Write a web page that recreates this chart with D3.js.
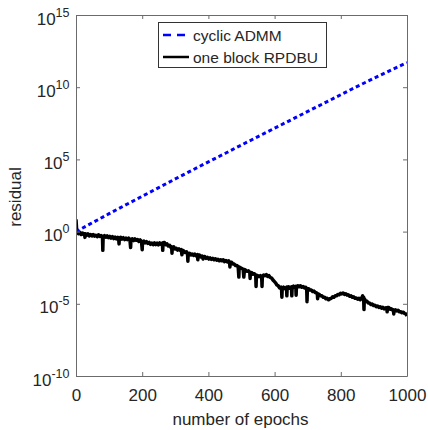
<!DOCTYPE html>
<html><head><meta charset="utf-8">
<script src="https://cdn.jsdelivr.net/npm/d3@7"></script>
<style>
html,body{margin:0;padding:0;background:#fff;}
svg{display:block;font-family:"Liberation Sans",Arial,sans-serif;}
</style></head>
<body>
<script>
// ---- data ----
const xTicks = [0, 200, 400, 600, 800, 1000];
const yTickExps = [15, 10, 5, 0, -5, -10];
const seriesNames = ["cyclic ADMM", "one block RPDBU"];
// cyclic ADMM: epoch, log10(residual)
const admmEpochs = [0,50,100,150,200,250,300,350,400,450,500,550,600,650,700,750,800,850,900,950,1000];
const admmLog = [0,0.62,1.24,1.85,2.45,3.05,3.65,4.24,4.83,5.41,6.0,6.58,7.16,7.74,8.32,8.9,9.48,10.06,10.62,11.17,11.7];
// one block RPDBU: [epoch, log10(residual)]
const rpdbu = [
[0,0.85],[2,0.1],[4,-0.05],[8,-0.15],[12,-0.05],[16,-0.2],[20,-0.1],[24,-0.2],[26,-0.15],[27,-0.4],[28,-0.15],[32,-0.25],[36,-0.15],[40,-0.3],[44,-0.2],[48,-0.3],[52,-0.2],[56,-0.32],[60,-0.25],[64,-0.35],[68,-0.22],[72,-0.33],[76,-0.28],[80,-0.35],[81,-1.3],[82,-0.35],[86,-0.28],[90,-0.38],[94,-0.3],[98,-0.42],
[102,-0.33],[106,-0.45],[110,-0.35],[114,-0.48],[118,-0.38],[122,-0.5],[126,-0.4],[129,-0.5],[130,-0.85],[131,-0.45],[135,-0.4],[139,-0.52],[143,-0.42],[147,-0.55],[151,-0.45],[155,-0.55],[159,-0.45],[163,-0.58],[165,-1.1],[166,-0.55],[170,-0.5],[174,-0.62],[178,-0.5],[182,-0.6],[186,-0.55],[190,-0.68],[194,-0.58],[198,-0.72],[200,-1.25],[201,-0.7],
[205,-0.65],[209,-0.78],[213,-0.7],[217,-0.82],[221,-0.75],[225,-0.88],[229,-0.8],[233,-0.9],[237,-0.78],[241,-0.9],[245,-0.8],[249,-0.92],[253,-0.78],[257,-0.88],[261,-0.8],[262,-1.3],[263,-0.78],[267,-0.75],[271,-0.9],[275,-0.85],[279,-1.0],[283,-0.95],[287,-1.1],[289,-1.05],[290,-1.5],[291,-1.1],[295,-1.05],[299,-1.2],
[303,-1.15],[307,-1.28],[311,-1.2],[315,-1.3],[318,-1.25],[320,-1.6],[322,-1.3],[326,-1.35],[330,-1.45],[334,-1.4],[337,-1.55],[338,-2.05],[339,-1.55],[343,-1.5],[347,-1.62],[351,-1.55],[355,-1.65],[359,-1.55],[363,-1.68],[367,-1.6],[368,-1.95],[369,-1.65],[373,-1.62],[377,-1.75],[381,-1.7],[384,-1.9],[385,-1.75],[389,-1.72],[393,-1.85],[397,-1.78],
[401,-1.9],[405,-1.82],[409,-1.92],[413,-1.85],[417,-1.95],[421,-1.88],[425,-1.98],[429,-1.92],[433,-2.02],[437,-1.95],[441,-2.02],[445,-1.95],[449,-2.08],[453,-2.0],[457,-2.1],[461,-2.02],[464,-2.12],[465,-2.45],[466,-2.15],[470,-2.12],[474,-2.25],[478,-2.25],[482,-2.35],[486,-2.35],[490,-2.45],[492,-3.15],[493,-2.45],[497,-2.5],
[501,-2.55],[505,-2.62],[507,-3.15],[509,-2.62],[513,-2.68],[517,-2.75],[521,-2.72],[525,-2.82],[526,-3.25],[527,-2.82],[531,-2.85],[535,-2.95],[539,-2.92],[543,-3.05],[544,-3.8],[545,-3.02],[549,-3.05],[553,-3.12],[557,-3.05],[561,-3.15],[562,-3.8],[563,-3.1],[567,-3.0],[571,-3.05],[575,-2.98],[579,-3.1],[583,-3.05],[587,-3.18],[591,-3.22],[595,-3.35],[599,-3.45],
[603,-3.55],[607,-3.7],[611,-3.75],[615,-3.9],[619,-3.85],[621,-3.95],[622,-4.55],[623,-3.95],[627,-3.85],[631,-3.95],[636,-3.85],[637,-4.45],[638,-3.88],[642,-3.82],[646,-3.92],[651,-3.82],[652,-4.45],[653,-3.85],[657,-3.78],[661,-3.88],[664,-3.8],[665,-4.4],[666,-3.8],[670,-3.75],[674,-3.82],[678,-3.75],[682,-3.85],[686,-3.8],[690,-3.9],[694,-3.85],[697,-3.95],[698,-4.85],[699,-3.95],
[703,-3.95],[707,-4.05],[711,-4.05],[715,-4.15],[719,-4.12],[723,-4.22],[727,-4.25],[729,-4.3],[730,-4.65],[731,-4.3],[735,-4.35],[739,-4.45],[743,-4.45],[747,-4.55],[751,-4.55],[755,-4.65],[759,-4.62],[763,-4.72],[767,-4.65],[771,-4.62],[775,-4.52],[779,-4.55],[783,-4.45],[787,-4.45],[791,-4.35],[795,-4.38],[799,-4.28],
[803,-4.32],[807,-4.25],[811,-4.35],[815,-4.3],[819,-4.4],[823,-4.38],[827,-4.48],[831,-4.45],[835,-4.55],[839,-4.52],[843,-4.62],[847,-4.6],[851,-4.68],[855,-4.62],[859,-4.72],[863,-4.6],[866,-4.45],[867,-4.6],[869,-4.55],[870,-5.4],[871,-4.65],[875,-4.8],[879,-4.82],[883,-4.95],[887,-4.95],[891,-5.05],[895,-5.02],[899,-5.12],
[903,-5.1],[907,-5.2],[911,-5.15],[915,-5.25],[919,-5.2],[923,-5.3],[927,-5.25],[931,-5.35],[935,-5.28],[939,-5.3],[940,-5.55],[941,-5.25],[945,-5.25],[949,-5.38],[953,-5.35],[957,-5.45],[959,-5.42],[960,-5.7],[961,-5.45],[965,-5.42],[969,-5.5],[973,-5.45],[977,-5.55],[981,-5.55],[985,-5.62],[989,-5.58],[993,-5.68],[997,-5.7],[1000,-5.85]
];

// ---- chart ----
const W = 428, H = 430;
const L = 76, R = 407, T = 15, B = 376;
const textCol = "#262626", axisCol = "#6b6b6b";
const FS = "17px";
const svg = d3.select("body").append("svg").attr("width", W).attr("height", H);

const x = d3.scaleLinear().domain([0, 1000]).range([L, R]);
const y = d3.scaleLog().domain([1e-10, 1e15]).range([B, T]);

svg.append("defs").append("clipPath").attr("id", "clip")
  .append("rect").attr("x", L).attr("y", T).attr("width", R - L).attr("height", B - T);

const line = d3.line().x(d => x(d[0])).y(d => y(Math.pow(10, d[1])));

const admm = admmEpochs.map((e, i) => [e, admmLog[i]]);
const g = svg.append("g").attr("clip-path", "url(#clip)");
g.append("path").datum(rpdbu).attr("d", line)
  .attr("fill", "none").attr("stroke", "#000").attr("stroke-width", 3.5).attr("stroke-linejoin", "round");
g.append("path").datum(admm).attr("d", line)
  .attr("fill", "none").attr("stroke", "#0000ff").attr("stroke-width", 3).attr("stroke-dasharray", "4,3");

// axes
function styleAxis(sel) {
  sel.selectAll(".domain").attr("stroke", axisCol);
  sel.selectAll(".tick line").attr("stroke", axisCol);
  sel.selectAll("text").attr("fill", textCol);
}
const yTickVals = yTickExps.map(e => Math.pow(10, e));
svg.append("g").attr("transform", `translate(0,${B})`)
  .call(d3.axisBottom(x).tickValues(xTicks).tickSizeInner(-4).tickSizeOuter(0).tickFormat(d3.format("d")))
  .call(styleAxis)
  .call(s => s.selectAll("text").attr("font-size", FS).attr("y", 24.5).attr("dy", 0));
svg.append("g").attr("transform", `translate(0,${T})`)
  .call(d3.axisTop(x).tickValues(xTicks).tickSizeInner(-4).tickSizeOuter(0).tickFormat(""))
  .call(styleAxis);
svg.append("g").attr("transform", `translate(${L},0)`)
  .call(d3.axisLeft(y).tickValues(yTickVals).tickSizeInner(-4).tickSizeOuter(0).tickFormat(""))
  .call(styleAxis);
svg.append("g").attr("transform", `translate(${R},0)`)
  .call(d3.axisRight(y).tickValues(yTickVals).tickSizeInner(-4).tickSizeOuter(0).tickFormat(""))
  .call(styleAxis);

// y tick labels with superscripts
const yl = svg.append("g").attr("fill", textCol);
yTickExps.forEach(e => {
  const t = yl.append("text").attr("x", 69.5).attr("y", y(Math.pow(10, e)) + 9.5)
    .attr("text-anchor", "end").attr("font-size", FS);
  t.append("tspan").text("10");
  t.append("tspan").attr("font-size", "12.5px").attr("dy", "-8").text(e);
});

// axis titles
svg.append("text").attr("x", (L + R) / 2 - 1).attr("y", 425).attr("text-anchor", "middle")
  .attr("font-size", FS).attr("fill", textCol).text("number of epochs");
svg.append("text").attr("transform", `translate(21,197) rotate(-90)`)
  .attr("text-anchor", "middle").attr("font-size", FS).attr("fill", textCol).text("residual");

// legend
const lg = svg.append("g");
lg.append("rect").attr("x", 158.5).attr("y", 22.5).attr("width", 168).attr("height", 45)
  .attr("fill", "#fff").attr("stroke", "#333").attr("stroke-width", 1);
const rows = [
  {name: seriesNames[0], color: "#0000ff", dash: "8,6", y: 35, x2: 185},
  {name: seriesNames[1], color: "#000", dash: null, y: 57, x2: 189}
];
rows.forEach(r => {
  lg.append("line").attr("x1", 163).attr("x2", r.x2).attr("y1", r.y).attr("y2", r.y)
    .attr("stroke", r.color).attr("stroke-width", 2.5).attr("stroke-dasharray", r.dash);
  lg.append("text").attr("x", 193).attr("y", r.y + 5.5).attr("font-size", "15.5px")
    .attr("fill", textCol).text(r.name);
});
</script>
</body></html>
